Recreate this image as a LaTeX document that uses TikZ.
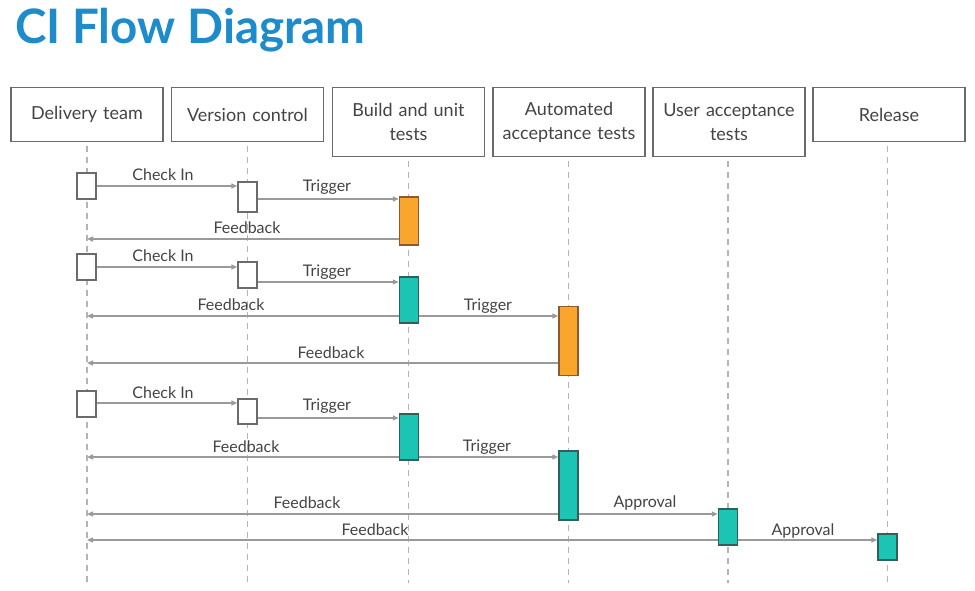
\documentclass[tikz,border=0pt]{standalone}
\usepackage{fontspec}
\setmainfont{Lato}
\usetikzlibrary{arrows.meta}
\definecolor{titleblue}{HTML}{1E8BCB}
\definecolor{txt}{HTML}{444444}
\definecolor{boxline}{HTML}{6B6B6B}
\definecolor{lifegray}{HTML}{B4B4B4}
\definecolor{arrowgray}{HTML}{9A9A9A}
\definecolor{orangefill}{HTML}{FAA52B}
\definecolor{orangeline}{HTML}{8A5A33}
\definecolor{tealfill}{HTML}{1CC4B3}
\definecolor{tealline}{HTML}{355E5A}
\begin{document}
\begin{tikzpicture}[x=1pt,y=-1pt,
  header/.style={draw=boxline, line width=1.5pt, minimum width=152pt, text width=148pt,
    align=center, anchor=north, text=txt, font=\fontsize{18}{24}\selectfont, inner sep=0pt},
  single/.style={header, minimum height=54pt},
  double/.style={header, minimum height=69pt},
  life/.style={draw=lifegray, line width=1.8pt, dash pattern=on 6pt off 5pt},
  act/.style={line width=1.5pt, minimum width=19pt, inner sep=0pt},
  idle/.style={act, draw=boxline, fill=white},
  orng/.style={act, draw=orangeline, fill=orangefill},
  tealbox/.style={act, draw=tealline, fill=tealfill},
  msg/.style={draw=arrowgray, line width=1.4pt, -{Triangle[length=6pt,width=5pt]}},
  lbl/.style={text=txt, font=\fontsize{16}{17}\selectfont, inner sep=0pt}
]
\fill[white] (0,0) rectangle (975,591);
\useasboundingbox (0,0) rectangle (975,591);

\node[anchor=base west, inner sep=0pt, text=titleblue, font=\fontsize{47.5}{50}\bfseries] (title) at (15,44) {CI Flow Diagram};

% headers
\node[single] (D) at (87,87) {Delivery team};
\node[single] (V) at (247.5,87) {Version control};
\node[double] (B) at (408.5,87) {Build and unit\\tests};
\node[double] (A) at (569,87) {Automated\\acceptance tests};
\node[double] (U) at (729,87) {User acceptance\\tests};
\node[single] (R) at (889,87) {Release};

% lifelines
\draw[life] ([yshift=-4pt]D.south) -- (D.south |- 0,583);
\draw[life] ([yshift=-4pt]V.south) -- (V.south |- 0,583);
\draw[life] ([yshift=-4pt]B.south) -- (B.south |- 0,583);
\draw[life] ([xshift=-0.5pt,yshift=-4pt]A.south) -- ([xshift=-0.5pt]A.south |- 0,583);
\draw[life] ([xshift=-1pt,yshift=-4pt]U.south) -- ([xshift=-1pt]U.south |- 0,583);
\draw[life] ([xshift=-1.5pt,yshift=-4pt]R.south) -- ([xshift=-1.5pt]R.south |- 0,583);

% round 1
\node[idle, minimum height=26pt] (d1) at (86.5,186) {};
\node[idle, minimum height=30pt] (v1) at (247.5,197) {};
\node[orng, minimum height=48pt] (b1) at (409,221) {};
\draw[msg] (d1.east) -- (d1.east -| v1.west);
\draw[msg] (v1.east |- 0,199) -- (b1.west |- 0,199);
\draw[msg] (b1.west |- 0,239) -- (D.south |- 0,239);
\node[lbl] (l1) at (163,175) {Check In};
\node[lbl] (l2) at (327,187) {Trigger};
\node[lbl] (l3) at (247,228) {Feedback};

% round 2
\node[idle, minimum height=26pt] (d2) at (86.5,267) {};
\node[idle, minimum height=26pt] (v2) at (247.5,275) {};
\node[tealbox, minimum height=46pt] (b2) at (409,300) {};
\node[orng, minimum height=69pt] (a2) at (568.5,341) {};
\draw[msg] (d2.east) -- (d2.east -| v2.west);
\draw[msg] (v2.east |- 0,282) -- (b2.west |- 0,282);
\draw[msg] (b2.west |- 0,316) -- (D.south |- 0,316);
\draw[msg] (b2.east |- 0,316) -- (a2.west |- 0,316);
\draw[msg] (a2.west |- 0,363) -- (D.south |- 0,363);
\node[lbl] (l4) at (163,256) {Check In};
\node[lbl] (l5) at (327,272) {Trigger};
\node[lbl] (l6) at (231,305) {Feedback};
\node[lbl] (l7) at (488,306) {Trigger};
\node[lbl] (l8) at (331,353) {Feedback};

% round 3
\node[idle, minimum height=26pt] (d3) at (86.5,404) {};
\node[idle, minimum height=25pt] (v3) at (247.5,411.5) {};
\node[tealbox, minimum height=46pt] (b3) at (409,437) {};
\node[tealbox, minimum height=69pt] (a3) at (568.5,485.5) {};
\node[tealbox, minimum height=36pt] (u3) at (728,527) {};
\node[tealbox, minimum height=26pt] (r3) at (887.5,547) {};
\draw[msg] (d3.east |- 0,403) -- (v3.west |- 0,403);
\draw[msg] (v3.east |- 0,418) -- (b3.west |- 0,418);
\draw[msg] (b3.west |- 0,457) -- (D.south |- 0,457);
\draw[msg] (b3.east |- 0,457) -- (a3.west |- 0,457);
\draw[msg] (a3.west |- 0,514) -- (D.south |- 0,514);
\draw[msg] (a3.east |- 0,514) -- (u3.west |- 0,514);
\draw[msg] (u3.west |- 0,540) -- (D.south |- 0,540);
\draw[msg] (u3.east |- 0,540) -- (r3.west |- 0,540);
\node[lbl] (l9) at (163,393) {Check In};
\node[lbl] (l10) at (327,406) {Trigger};
\node[lbl] (l11) at (246,447) {Feedback};
\node[lbl] (l12) at (487,447) {Trigger};
\node[lbl] (l13) at (307,503) {Feedback};
\node[lbl] (l14) at (645,503) {Approval};
\node[lbl] (l15) at (375,530) {Feedback};
\node[lbl] (l16) at (803,531) {Approval};
\end{tikzpicture}
\end{document}
